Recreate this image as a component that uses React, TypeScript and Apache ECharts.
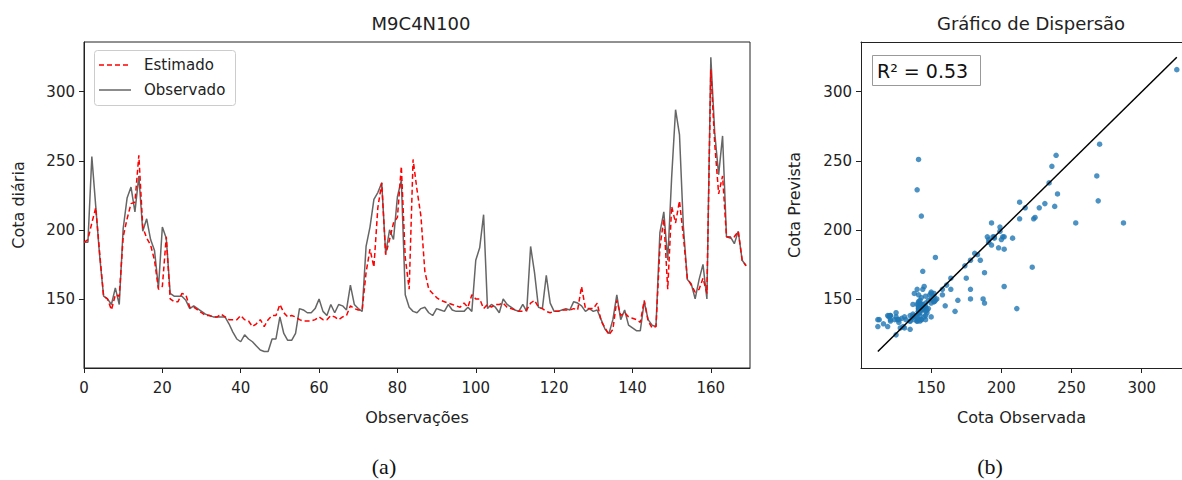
import React, { useEffect, useRef } from "react";
import * as echarts from "echarts";

const observado = [
  191, 191, 253, 217, 181, 152, 150, 146, 158, 146,
  201, 223, 231, 213, 239, 199, 208, 193, 185, 158,
  202, 194, 154, 152, 152, 152, 149, 143, 145, 143,
  141, 139, 138, 137, 137, 137, 137, 132, 126, 121,
  119, 124, 121, 119, 116, 113, 112, 112, 121, 121,
  137, 125, 120, 120, 125, 143, 142, 140, 140, 143,
  150, 141, 138, 146, 140, 146, 145, 142, 160, 146,
  143, 141, 188, 202, 222, 227, 234, 183, 200, 193,
  224, 236, 153, 144, 141, 140, 143, 144, 140, 138,
  143, 142, 141, 146, 142, 141, 141, 141, 144, 141,
  178, 187, 211, 143, 146, 144, 140, 150, 146, 144,
  142, 141, 146, 141, 188, 169, 144, 143, 167, 147,
  141, 141, 142, 143, 142, 148, 147, 145, 141, 143,
  141, 142, 135, 128, 125, 135, 153, 135, 142, 131,
  129, 127, 127, 148, 135, 131, 130, 198, 213, 178,
  238, 287, 269, 202, 164, 161, 150, 164, 175, 150,
  325, 270, 240, 268, 195, 195, 190, 199, 178, 174,
];

const estimado = [
  191, 193, 205, 216, 183, 152, 150, 142, 153, 152,
  195, 208, 219, 220, 254, 202, 194, 189, 178, 157,
  159, 195, 150, 148, 148, 154, 153, 144, 144, 142,
  140, 138, 138, 137, 137, 139, 137, 135, 135, 135,
  138, 135, 134, 130, 132, 135, 130, 135, 138, 138,
  146, 140, 137, 138, 137, 135, 134, 134, 134, 135,
  137, 135, 135, 138, 137, 135, 137, 138, 145, 143,
  142, 142, 169, 186, 173, 216, 234, 182, 193, 205,
  209, 246, 180, 157, 251, 229, 210, 170, 157, 154,
  151, 149, 148, 147, 146, 145, 144, 147, 144, 153,
  150, 150, 143, 146, 144, 146, 146, 147, 144, 143,
  142, 141, 141, 142, 147, 149, 144, 143, 141, 140,
  141, 141, 142, 142, 142, 143, 142, 159, 143, 143,
  143, 147, 134, 129, 124, 128, 149, 138, 140, 137,
  136, 135, 133, 149, 134, 129, 130, 187, 208, 157,
  217, 205, 221, 195, 165, 160, 155, 157, 165, 154,
  316, 262, 226, 239, 195, 194, 195, 199, 178, 174,
];

const xTicks = [0, 20, 40, 60, 80, 100, 120, 140, 160];
const yTicks = [150, 200, 250, 300];
const scatterXTicks = [150, 200, 250, 300];
const legendNames = ["Estimado", "Observado"];
const r2Label = "R² = 0.53";

const FONT = "DejaVu Sans";
const INK = "#222";
const RED = "#f00";
const GRAY = "#666";

export default function App() {
  const ref = useRef<HTMLDivElement>(null);

  useEffect(() => {
    const chart = echarts.init(ref.current!, null, { renderer: "svg" });
    const obsLine = observado.map((v, i) => [i, v]);
    const estLine = estimado.map((v, i) => [i, v]);
    const pairs = observado.map((v, i) => [v, estimado[i]]);
    const mn = Math.min(...observado);
    const mx = Math.max(...observado);

    const axisLine = { show: true, onZero: false, lineStyle: { color: INK, width: 1 } };
    const tick = (ticks: number[]) => ({ show: true, length: 5, customValues: ticks, lineStyle: { color: INK, width: 1 } });
    const label = (ticks: number[], margin: number) => ({
      customValues: ticks, fontSize: 15, color: INK, fontFamily: FONT, margin,
    });
    const nameStyle = { fontSize: 16, color: INK, fontFamily: FONT };

    chart.setOption({
      animation: false,
      textStyle: { fontFamily: FONT },
      title: [
        { text: "M9C4N100", left: 416, top: 9, textAlign: "center",
          textStyle: { fontSize: 18, fontWeight: "normal", color: INK, fontFamily: FONT } },
        { text: "Gráfico de Dispersão", left: 1026, top: 9, textAlign: "center",
          textStyle: { fontSize: 18, fontWeight: "normal", color: INK, fontFamily: FONT } },
      ],
      grid: [
        { left: 84, top: 42, width: 666, height: 326, show: true, borderColor: INK, borderWidth: 1 },
        { left: 861, top: 42, right: 0, height: 326, show: false },
      ],
      xAxis: [
        {
          type: "value", gridIndex: 0, min: 0, max: 170,
          axisLine, axisTick: tick(xTicks), axisLabel: label(xTicks, 12), splitLine: { show: false },
          name: "Observações", nameLocation: "middle", nameGap: 41, nameTextStyle: nameStyle,
        },
        {
          type: "value", gridIndex: 1, min: 100, max: 328.7,
          axisLine, axisTick: tick(scatterXTicks), axisLabel: label(scatterXTicks, 12), splitLine: { show: false },
          name: "Cota Observada", nameLocation: "middle", nameGap: 41, nameTextStyle: nameStyle,
        },
        {
          type: "value", gridIndex: 1, min: 100, max: 328.7, position: "top",
          axisLine, axisTick: { show: false }, axisLabel: { show: false }, splitLine: { show: false },
        },
      ],
      yAxis: [
        {
          type: "value", gridIndex: 0, min: 100, max: 336,
          axisLine, axisTick: tick(yTicks), axisLabel: label(yTicks, 9), splitLine: { show: false },
          name: "Cota diária", nameLocation: "middle", nameGap: 58, nameTextStyle: nameStyle,
        },
        {
          type: "value", gridIndex: 1, min: 100, max: 336,
          axisLine, axisTick: tick(yTicks), axisLabel: label(yTicks, 9), splitLine: { show: false },
          name: "Cota Prevista", nameLocation: "middle", nameGap: 59, nameTextStyle: nameStyle,
        },
      ],
      series: [
        {
          name: "Observado", type: "line", xAxisIndex: 0, yAxisIndex: 0, data: obsLine,
          symbol: "none", silent: true, color: GRAY,
          lineStyle: { color: GRAY, width: 1.5 },
        },
        {
          name: "Estimado", type: "line", xAxisIndex: 0, yAxisIndex: 0, data: estLine,
          symbol: "none", silent: true, color: RED,
          lineStyle: { color: RED, width: 1.5, type: [5, 3] },
        },
        {
          name: "Pontos", type: "scatter", xAxisIndex: 1, yAxisIndex: 1, data: pairs,
          symbolSize: 5.5, silent: true, itemStyle: { color: "#1f77b4" },
        },
        {
          name: "Identidade", type: "line", xAxisIndex: 1, yAxisIndex: 1,
          data: [[mn, mn], [mx, mx]], symbol: "none", silent: true,
          lineStyle: { color: "#000", width: 1.5 },
        },
      ],
      graphic: [
        // legend
        { type: "rect", shape: { x: 94.5, y: 50.5, width: 141, height: 55, r: 3 },
          style: { fill: "rgba(255,255,255,0.8)", stroke: "#ccc", lineWidth: 1 }, z: 100 },
        { type: "line", shape: { x1: 99, y1: 65, x2: 131, y2: 65 },
          style: { stroke: RED, lineWidth: 1.5, lineDash: [5, 3] }, z: 101 },
        { type: "text", x: 144, y: 65, z: 101,
          style: { text: legendNames[0], fontSize: 15, fontFamily: FONT, fill: INK, verticalAlign: "middle" } },
        { type: "line", shape: { x1: 99, y1: 90, x2: 131, y2: 90 },
          style: { stroke: GRAY, lineWidth: 1.5 }, z: 101 },
        { type: "text", x: 144, y: 90, z: 101,
          style: { text: legendNames[1], fontSize: 15, fontFamily: FONT, fill: INK, verticalAlign: "middle" } },
        // R² box
        { type: "rect", shape: { x: 872.5, y: 55.5, width: 108, height: 30 },
          style: { fill: "#fff", stroke: "#999", lineWidth: 1 }, z: 100 },
        { type: "text", x: 877, y: 71, z: 101,
          style: { text: r2Label, fontSize: 19, fontFamily: FONT, fill: "#111", verticalAlign: "middle" } },
        // sub captions
        { type: "text", x: 384, y: 466,
          style: { text: "(a)", fontSize: 22, fontFamily: "Liberation Serif", fill: "#111", align: "center", verticalAlign: "middle" } },
        { type: "text", x: 990, y: 466,
          style: { text: "(b)", fontSize: 22, fontFamily: "Liberation Serif", fill: "#111", align: "center", verticalAlign: "middle" } },
      ],
    });

    return () => chart.dispose();
  }, []);

  return (
    <div
      ref={ref}
      style={{ position: "absolute", left: 0, top: 0, width: 1182, height: 480 }}
    />
  );
}
